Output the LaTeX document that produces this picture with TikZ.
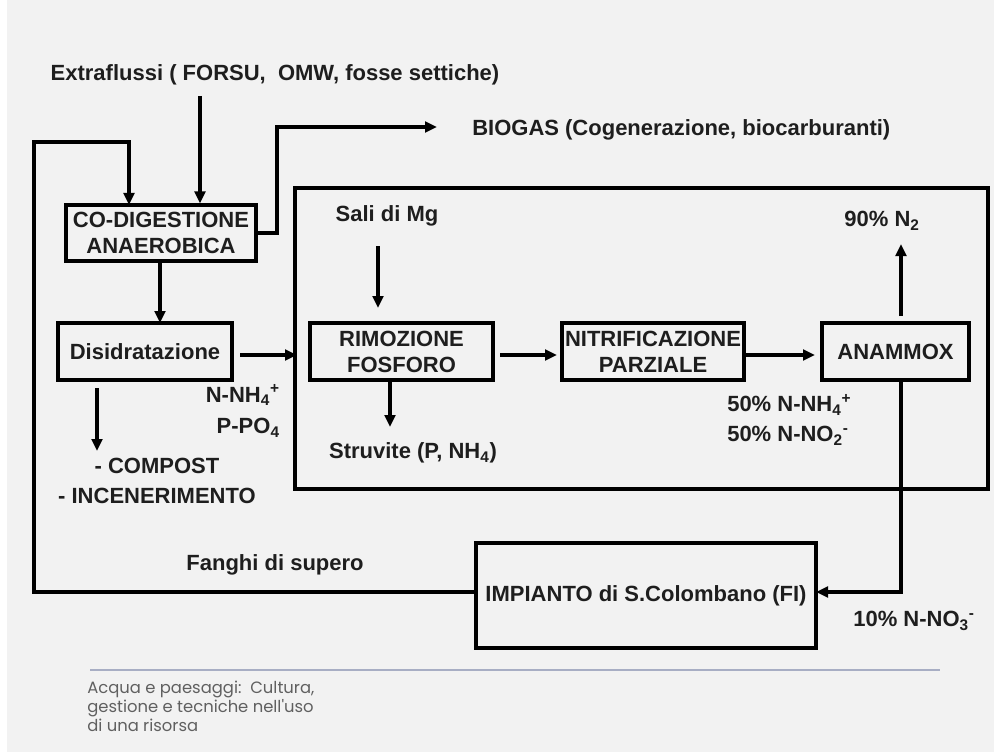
\documentclass[tikz,border=0pt]{standalone}
\usepackage{fontspec}
\setmainfont{Liberation Sans}
\newfontfamily\footfont{Poppins}
\usetikzlibrary{arrows.meta}
\definecolor{bgc}{HTML}{F2F2F2}
\definecolor{txt}{HTML}{1E1E1E}
\definecolor{rulec}{HTML}{A8AEC4}
\definecolor{footc}{HTML}{606060}
\tikzset{
  lbl/.style={font=\fontsize{16.5pt}{19.5pt}\selectfont\bfseries, text=txt, inner sep=0pt},
  procbox/.style={draw=black, line width=2.3pt, fill=none, lbl, align=center, inner sep=0pt},
  arr/.style={draw=black, line width=2.3pt, -{Triangle[length=9pt,width=8pt]}},
  ln/.style={draw=black, line width=2.3pt},
}
\begin{document}
\begin{tikzpicture}[x=0.75pt,y=-0.75pt]
\useasboundingbox (0,0) rectangle (994,752);
\fill[white] (0,0) rectangle (994,752);
\fill[bgc] (7,0) rectangle (994,752);

% boxes
\node[procbox, minimum width=693*0.75pt, minimum height=301*0.75pt] (big) at (641.5,338.5) {};
\node[procbox, minimum width=190*0.75pt, minimum height=56*0.75pt] (codig) at (161,233) {CO-DIGESTIONE\\ANAEROBICA};
\node[procbox, minimum width=174*0.75pt, minimum height=57*0.75pt] (disid) at (145,351.5) {Disidratazione};
\node[procbox, minimum width=183*0.75pt, minimum height=57*0.75pt] (rimoz) at (401.5,351.5) {RIMOZIONE\\FOSFORO};
\node[procbox, minimum width=182*0.75pt, minimum height=57*0.75pt, text width=182*0.75pt] (nitri) at (653,351.5) {NITRIFICAZIONE\\PARZIALE};
\node[procbox, minimum width=147*0.75pt, minimum height=57*0.75pt] (anam) at (895.5,351.5) {ANAMMOX};
\node[procbox, minimum width=340*0.75pt, minimum height=105*0.75pt] (imp) at (646,595.5) {IMPIANTO di S.Colombano (FI)};

% labels
\node[lbl] (title) at (275,75) {Extraflussi ( FORSU,\ \ OMW, fosse settiche)};
\node[lbl, anchor=west] (biogas) at (472,130) {BIOGAS (Cogenerazione, biocarburanti)};
\node[lbl] (sali) at (387,216) {Sali di Mg};
\node[lbl] (n2) at (882,221) {90\% N\textsubscript{2}};
\node[lbl, align=right, anchor=east] (nh4) at (280,411) {N-NH\textsubscript{4}\textsuperscript{+}\\[4pt]P-PO\textsubscript{4}};
\node[lbl, align=center] (compost) at (157,481) {- COMPOST\\[3pt]- INCENERIMENTO};
\node[lbl] (struv) at (413,453) {Struvite (P, NH\textsubscript{4})};
\node[lbl, align=left, anchor=west] (mix) at (727,420) {50\% N-NH\textsubscript{4}\textsuperscript{+}\\[3pt]50\% N-NO\textsubscript{2}\textsuperscript{-}};
\node[lbl] (fanghi) at (275,565) {Fanghi di supero};
\node[lbl] (no3) at (914,621) {10\% N-NO\textsubscript{3}\textsuperscript{-}};

% coordinates
\coordinate (e1) at (200,96);
\coordinate (loopL) at (34,592);
\coordinate (loopT) at (34,142);
\coordinate (bg1) at (277,233);
\coordinate (bg2) at (277,127);
\coordinate (bgend) at (437,127);
\coordinate (d1) at (240,355);
\coordinate (d2) at (297,355);
\coordinate (c1) at (97,388);
\coordinate (c2) at (97,451);
\coordinate (m1) at (378,246);
\coordinate (m2) at (378,308);
\coordinate (s1) at (390,380);
\coordinate (s2) at (390,427);
\coordinate (r1) at (500,355);
\coordinate (r2) at (557,355);
\coordinate (n1) at (744,355);
\coordinate (n2e) at (815,355);
\coordinate (a1) at (901,316);
\coordinate (a2) at (901,244);
\coordinate (a3) at (901,380);
\coordinate (a4) at (901,592);
\coordinate (i1) at (816,592);
\coordinate (i0) at (476,592);

% connectors
\draw[arr] (e1) -- (e1 |- codig.north);
\draw[arr] (i0) -- (loopL) -- (loopT) -- (129,142) -- (129,205);
\draw[arr] (codig.east |- bg1) -- (bg1) -- (bg2) -- (bgend);
\draw[arr] (160,261) -- (160,323);
\draw[arr] (d1) -- (d2);
\draw[arr] (c1) -- (c2);
\draw[arr] (m1) -- (m2);
\draw[arr] (s1) -- (s2);
\draw[arr] (r1) -- (r2);
\draw[arr] (n1) -- (n2e);
\draw[arr] (a1) -- (a2);
\draw[arr] (a3) -- (a4) -- (i1);

% footer
\draw[rulec, line width=1.5pt] (90,670) -- (940,670);
\node[anchor=north west, align=left, inner sep=0pt, text=footc, font=\footfont\fontsize{12.3pt}{14pt}\selectfont] (foot) at (87,681) {Acqua e paesaggi:\ \ Cultura,\\gestione e tecniche nell'uso\\di una risorsa};
\end{tikzpicture}
\end{document}
